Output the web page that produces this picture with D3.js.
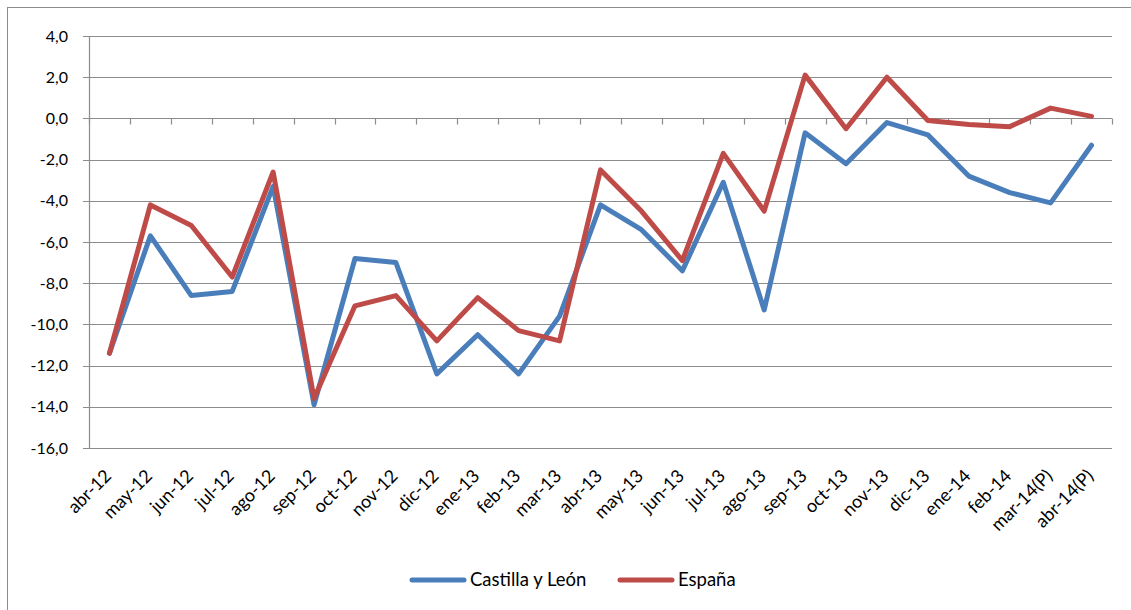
<!DOCTYPE html>
<html><head><meta charset="utf-8">
<script src="https://cdn.jsdelivr.net/npm/d3@7"></script>
<style>body{margin:0;background:#fff}svg{display:block;font-family:Lato,"Open Sans",sans-serif}</style>
</head><body><svg id="c" width="1131" height="610"></svg>
<script>
const categories=["abr-12","may-12","jun-12","jul-12","ago-12","sep-12","oct-12","nov-12","dic-12","ene-13","feb-13","mar-13","abr-13","may-13","jun-13","jul-13","ago-13","sep-13","oct-13","nov-13","dic-13","ene-14","feb-14","mar-14(P)","abr-14(P)"];
const castilla=[-11.4,-5.7,-8.6,-8.4,-3.3,-13.9,-6.8,-7.0,-12.4,-10.5,-12.4,-9.6,-4.2,-5.4,-7.4,-3.1,-9.3,-0.7,-2.2,-0.2,-0.8,-2.8,-3.6,-4.1,-1.3];
const espana=[-11.4,-4.2,-5.2,-7.7,-2.6,-13.6,-9.1,-8.6,-10.8,-8.7,-10.3,-10.8,-2.5,-4.5,-6.9,-1.7,-4.5,2.1,-0.5,2.0,-0.1,-0.3,-0.4,0.5,0.1];
const yTicks=[4,2,0,-2,-4,-6,-8,-10,-12,-14,-16];
const seriesNames=["Castilla y León","España"];
const colors=["#4A7EBB","#BE4B48"];

const svg=d3.select("#c");
svg.append("rect").attr("x",7.5).attr("y",7.5).attr("width",1140).attr("height",620).attr("fill","none").attr("stroke","#8c8c8c").attr("stroke-width",1);
const L=89,R=1112,T=36,B=448;
const x=d3.scaleBand().domain(categories).range([L,R]);
const y=d3.scaleLinear().domain([-16,4]).range([B,T]);
const fmt=v=>d3.format(".1f")(v).replace(".",",").replace("−","-");

// gridlines
svg.append("g").selectAll("line").data(yTicks).join("line")
 .attr("x1",L-6).attr("x2",R).attr("y1",d=>Math.round(y(d))+0.5).attr("y2",d=>Math.round(y(d))+0.5)
 .attr("stroke","#8c8c8c").attr("stroke-width",1.2);
// y axis line
svg.append("line").attr("x1",L+0.5).attr("x2",L+0.5).attr("y1",T).attr("y2",B).attr("stroke","#8c8c8c").attr("stroke-width",1.2);
// y labels
svg.append("g").selectAll("text").data(yTicks).join("text")
 .attr("x",L-21).attr("y",d=>y(d)).attr("dy","0.35em").attr("text-anchor","end")
 .attr("font-size",16).attr("fill","#000").text(fmt);
// category ticks at y=0
const y0=Math.round(y(0))+0.5;
const bounds=categories.map(c=>x(c)).concat([R]);
svg.append("g").selectAll("line").data(bounds).join("line")
 .attr("x1",d=>Math.round(d)+0.5).attr("x2",d=>Math.round(d)+0.5).attr("y1",y0).attr("y2",y0+6)
 .attr("stroke","#8c8c8c").attr("stroke-width",1.2);
// x labels
svg.append("g").selectAll("text").data(categories).join("text")
 .attr("transform",d=>`translate(${x(d)+x.bandwidth()/2+3},${B+29}) rotate(-45)`)
 .attr("text-anchor","end").attr("font-size",18).attr("fill","#000").text(d=>d);
// lines
const line=d3.line().x((d,i)=>x(categories[i])+x.bandwidth()/2).y(d=>y(d));
[castilla,espana].forEach((s,k)=>{
 svg.append("path").datum(s).attr("d",line).attr("fill","none").attr("stroke",colors[k])
  .attr("stroke-width",5).attr("stroke-linejoin","round").attr("stroke-linecap","round");
});
// legend
const lg=[{x:412,tx:470},{x:620,tx:678}];
seriesNames.forEach((n,k)=>{
 svg.append("line").attr("x1",lg[k].x).attr("x2",lg[k].x+52).attr("y1",580).attr("y2",580)
  .attr("stroke",colors[k]).attr("stroke-width",5).attr("stroke-linecap","round");
 svg.append("text").attr("x",lg[k].tx).attr("y",580).attr("dy","0.35em").attr("font-size",18.5).attr("fill","#000").text(n);
});
</script></body></html>
